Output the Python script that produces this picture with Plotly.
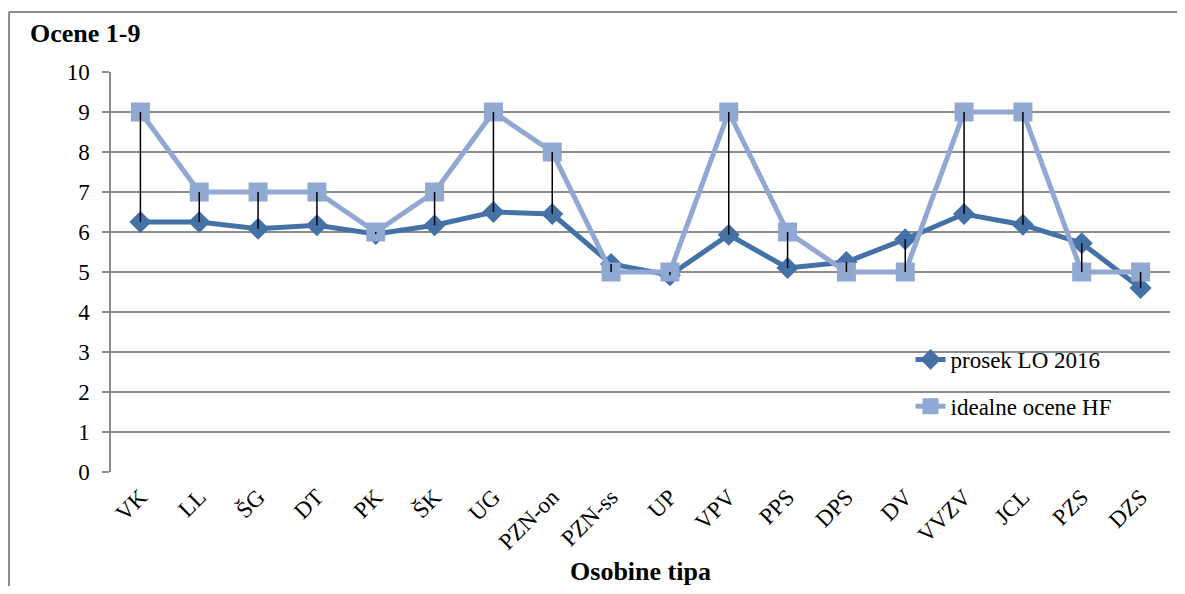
import plotly.graph_objects as go

categories = ["VK", "LL", "ŠG", "DT", "PK", "ŠK", "UG", "PZN-on", "PZN-ss", "UP",
              "VPV", "PPS", "DPS", "DV", "VVZV", "JCL", "PZS", "DZS"]
prosek_lo_2016 = [6.25, 6.25, 6.08, 6.17, 5.95, 6.17, 6.5, 6.45, 5.2, 4.92,
                  5.93, 5.1, 5.25, 5.82, 6.45, 6.18, 5.72, 4.6]
idealne_ocene_hf = [9, 7, 7, 7, 6, 7, 9, 8, 5, 5, 9, 6, 5, 5, 9, 9, 5, 5]
y_ticks = list(range(0, 11))

DARK = "#4471A6"
LIGHT = "#91A8D2"
FONT = "Liberation Serif, Times New Roman, serif"

# high-low connector lines built from the data
hl_x, hl_y = [], []
for c, a, b in zip(categories, prosek_lo_2016, idealne_ocene_hf):
    hl_x += [c, c, None]
    hl_y += [a, b, None]

fig = go.Figure()
fig.add_trace(go.Scatter(
    x=categories, y=prosek_lo_2016, name="prosek LO 2016", mode="lines+markers",
    line=dict(color=DARK, width=5), legendgroup="a",
    marker=dict(symbol="diamond", size=17, color=DARK)))
fig.add_trace(go.Scatter(
    x=categories, y=idealne_ocene_hf, name="idealne ocene HF", mode="lines+markers",
    line=dict(color=LIGHT, width=5), legendgroup="b",
    marker=dict(symbol="square", size=19, color=LIGHT)))
fig.add_trace(go.Scatter(
    x=hl_x, y=hl_y, mode="lines", showlegend=False, hoverinfo="skip",
    line=dict(color="black", width=1.5)))

fig.update_layout(
    width=1169, height=578,
    margin=dict(l=103, r=7, t=64, b=114),
    paper_bgcolor="white", plot_bgcolor="white",
    font=dict(family=FONT, size=23, color="black"),
    showlegend=True,
    legend=dict(x=0.755, y=0.335, xanchor="left", yanchor="top",
                bgcolor="rgba(0,0,0,0)", tracegroupgap=14,
                font=dict(family=FONT, size=23, color="black")),
    xaxis=dict(
        type="category", tickangle=-45, showgrid=False, automargin=False,
        showline=False, ticks="", tickfont=dict(family=FONT, size=23),
        ticklabelstandoff=6,
        title=dict(text="<b>Osobine tipa</b>", font=dict(family=FONT, size=26), standoff=15),
        range=[-0.5, len(categories) - 0.5]),
    yaxis=dict(
        range=[0, 10], tickvals=y_ticks, showgrid=True, gridcolor="#8C8C8C", gridwidth=1.5,
        showline=True, linecolor="#8C8C8C", linewidth=1.5, automargin=False,
        ticks="outside", ticklen=7, tickcolor="#8C8C8C", tickwidth=1.5,
        ticklabelstandoff=8,
        tickfont=dict(family=FONT, size=23), zeroline=False),
    annotations=[dict(text="<b>Ocene 1-9</b>", x=-0.0785, y=1.0975, xref="paper", yref="paper",
                      xanchor="left", yanchor="middle", showarrow=False,
                      font=dict(family=FONT, size=26, color="black"))],
    shapes=[dict(type="line", xref="paper", yref="paper", x0=-0.0963, x1=1.05, y0=1.15, y1=1.15,
                 line=dict(color="#8C8C8C", width=2)),
            dict(type="line", xref="paper", yref="paper", x0=-0.0963, x1=-0.0963, y0=1.15, y1=-0.45,
                 line=dict(color="#8C8C8C", width=2))],
)

fig.write_html("out.html")
